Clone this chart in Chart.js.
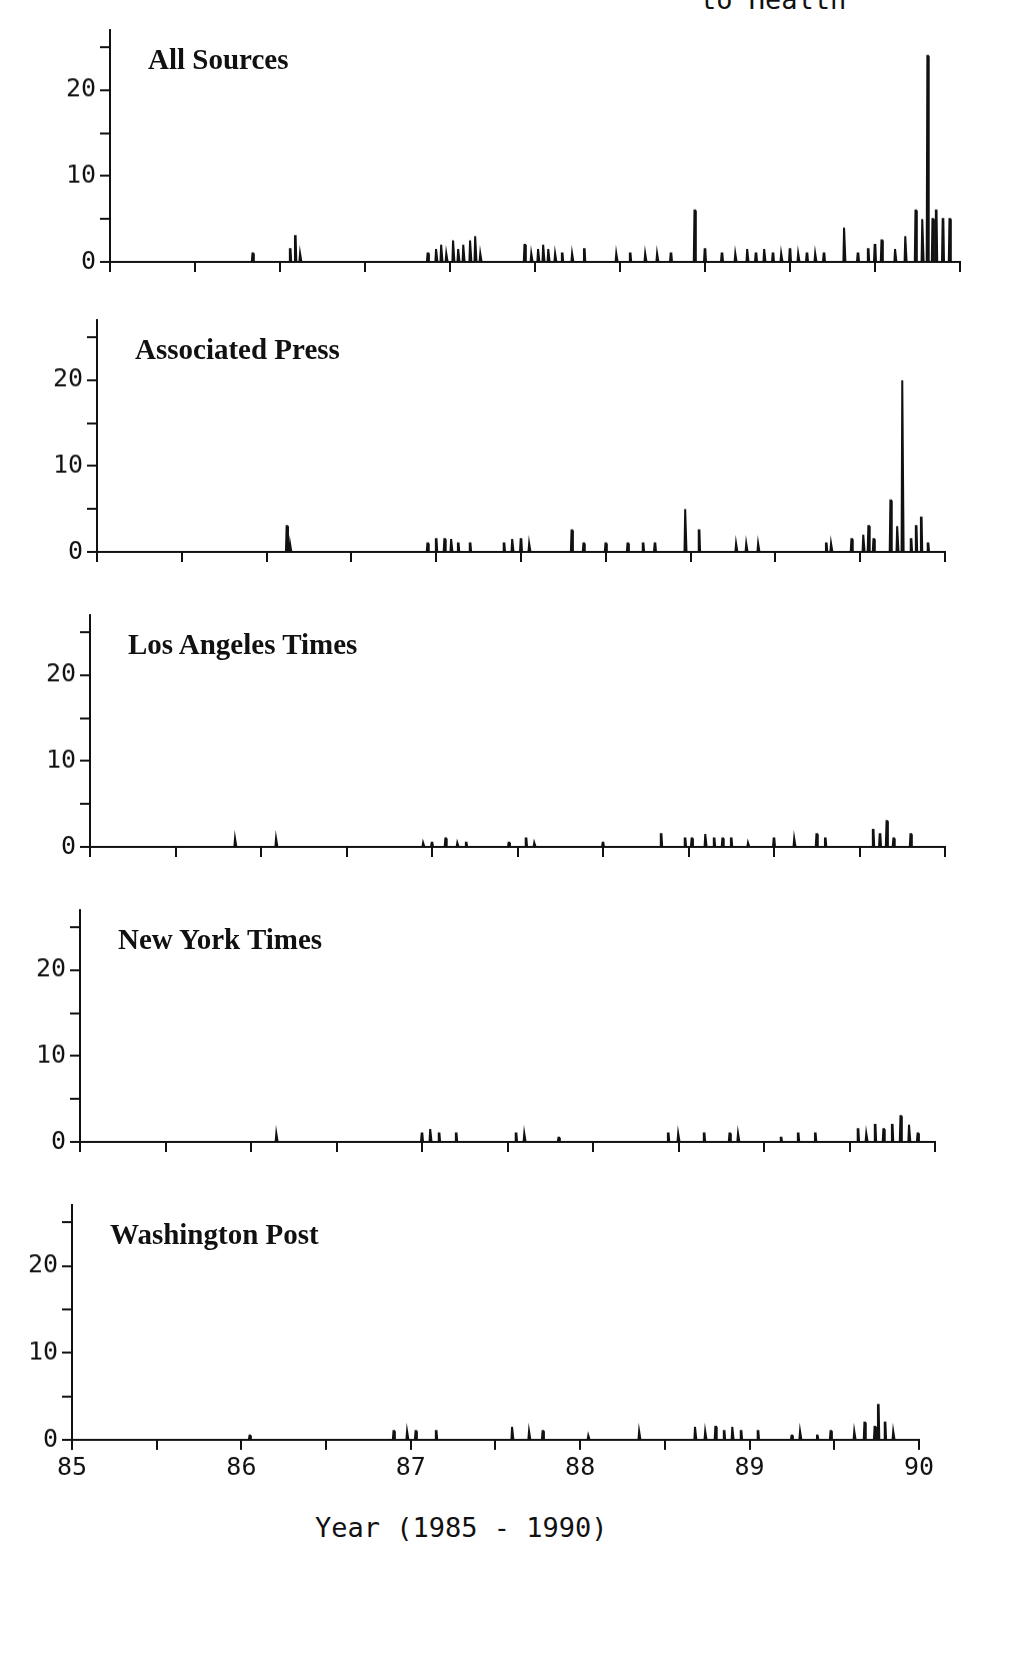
<!DOCTYPE html>
<html><head><meta charset="utf-8">
<script src="https://cdn.jsdelivr.net/npm/chart.js@4/dist/chart.umd.min.js"></script>
<style>
body{margin:0;background:#fff;width:1017px;height:1656px;position:relative;overflow:hidden}
canvas{position:absolute}
.lab{position:absolute;font-family:"Liberation Serif",serif;font-weight:bold;font-size:29px;color:#111;white-space:nowrap}
.mono{position:absolute;font-family:"DejaVu Sans Mono",monospace;font-size:27px;color:#111;white-space:nowrap}
</style></head><body>
<div class="mono" style="left:700px;top:-16px">to Health</div>
<div class="mono" style="left:315px;top:1512px">Year (1985 - 1990)</div>
<script>
const seriesNames=["All Sources","Associated Press","Los Angeles Times","New York Times","Washington Post"];
const yearTicks=[85,86,87,88,89,90];
const allT=[85.84,86.06,86.09,86.12,86.87,86.92,86.95,86.98,87.02,87.05,87.08,87.12,87.15,87.18,87.44,87.48,87.52,87.55,87.58,87.62,87.66,87.72,87.79,87.98,88.06,88.15,88.22,88.3,88.44,88.5,88.6,88.68,88.75,88.8,88.85,88.9,88.95,89.0,89.05,89.1,89.15,89.2,89.32,89.4,89.46,89.5,89.54,89.62,89.68,89.74,89.78,89.81,89.84,89.86,89.9,89.94];
const allV=[1,1.5,3,1,1,1.5,2,1,2.5,1.5,2,2.5,3,1,2,1,1.5,2,1.5,1,1,1,1.5,1,1,1,1,1,6,1.5,1,1,1.5,1,1.5,1,1,1.5,1,1,1,1,4,1,1.5,2,2.5,1.5,3,6,5,24,5,6,5,5];
const apT=[86.12,86.14,86.95,87.0,87.05,87.09,87.13,87.2,87.4,87.45,87.5,87.55,87.8,87.87,88.0,88.13,88.22,88.29,88.47,88.55,88.77,88.83,88.9,89.3,89.33,89.45,89.52,89.55,89.58,89.68,89.72,89.75,89.8,89.83,89.86,89.9];
const apV=[3,1,1,1.5,1.5,1.5,1,1,1,1.5,1.5,1,2.5,1,1,1,1,1,5,2.5,1,1,1,1,1,1.5,2,3,1.5,6,3,20,1.5,3,4,1];
const laT=[85.85,86.09,86.95,87.0,87.08,87.15,87.2,87.45,87.55,87.6,88.0,88.34,88.48,88.52,88.6,88.65,88.7,88.75,88.85,89.0,89.12,89.25,89.3,89.58,89.62,89.66,89.7,89.8];
const laV=[1,1,0.5,0.5,1,0.5,0.5,0.5,1,0.5,0.5,1.5,1,1,1.5,1,1,1,0.5,1,1,1.5,1,2,1.5,3,1,1.5];
const nyT=[86.15,87.0,87.05,87.1,87.2,87.55,87.6,87.8,88.44,88.5,88.65,88.8,88.85,89.1,89.2,89.3,89.55,89.6,89.65,89.7,89.75,89.8,89.85,89.9];
const nyV=[1,1,1.5,1,1,1,1,0.5,1,1,1,1,1,0.5,1,1,1.5,1,2,1.5,2,3,2,1];
const wpT=[86.05,86.9,86.98,87.03,87.15,87.6,87.7,87.78,88.05,88.35,88.68,88.74,88.8,88.85,88.9,88.95,89.05,89.25,89.3,89.4,89.48,89.62,89.68,89.74,89.76,89.8,89.85];
const wpV=[0.5,1,1,1,1,1.5,1,1,0.5,1,1.5,1,1.5,1,1.5,1,1,0.5,1,0.5,1,1,2,1.5,4,2,1];
const allData=[[allT,allV],[apT,apV],[laT,laV],[nyT,nyV],[wpT,wpV]];
const zeroY=[265,555,850,1145,1440];
const axisX=[110,97,90,80,72];
const rightX=[960,945,945,935,925];
const PX=9.4, LW=80;
allData.forEach((d,i)=>{
  const pts=[{x:85,y:0}];
  d[0].forEach((t,k)=>{pts.push({x:t-0.006,y:0},{x:t-0.002,y:d[1][k]},{x:t+0.002,y:d[1][k]},{x:t+0.006,y:0});});
  pts.push({x:90,y:0});
  const last=i===4;
  const c=document.createElement('canvas');
  const top=zeroY[i]-27*PX, bottomH=last?55:16;
  const w=rightX[i]-axisX[i]+LW+12, h=27*PX+bottomH;
  c.style.left=(axisX[i]-LW)+'px';c.style.top=top+'px';
  c.style.width=w+'px';c.style.height=h+'px';
  document.body.appendChild(c);
  const lab=document.createElement('div');lab.className='lab';lab.textContent=seriesNames[i];
  lab.style.left=(axisX[i]+38)+'px';lab.style.top=(zeroY[i]-222)+'px';document.body.appendChild(lab);
  new Chart(c,{type:'line',data:{datasets:[{data:pts,borderColor:'#111',borderWidth:2,pointRadius:0,tension:0}]},
  options:{responsive:false,animation:false,events:[],layout:{padding:{right:12,top:0}},
   plugins:{legend:{display:false},tooltip:{enabled:false}},
   scales:{
    x:{type:'linear',min:85,max:90,afterFit:s=>{s.height=bottomH;},
      afterBuildTicks:s=>{s.ticks=[];for(let v=85;v<=90.001;v+=0.5)s.ticks.push({value:v});},
      border:{color:'#111',width:2},
      grid:{drawOnChartArea:false,color:'#111',tickLength:10,lineWidth:2},
      ticks:{display:last,autoSkip:false,maxRotation:0,color:'#111',font:{family:'DejaVu Sans Mono',size:25},
        callback:v=>Number.isInteger(v)?String(v):''}},
    y:{min:0,max:27,afterFit:s=>{s.width=LW;},
      afterBuildTicks:s=>{s.ticks=[0,5,10,15,20,25].map(v=>({value:v}));},
      border:{color:'#111',width:2},
      grid:{drawOnChartArea:false,color:'#111',tickLength:10,lineWidth:2},
      ticks:{autoSkip:false,color:'#111',font:{family:'DejaVu Sans Mono',size:25},padding:4,
        callback:v=>(v%10===0&&v<=20)?String(v):''}}
   }}});
});
</script></body></html>
